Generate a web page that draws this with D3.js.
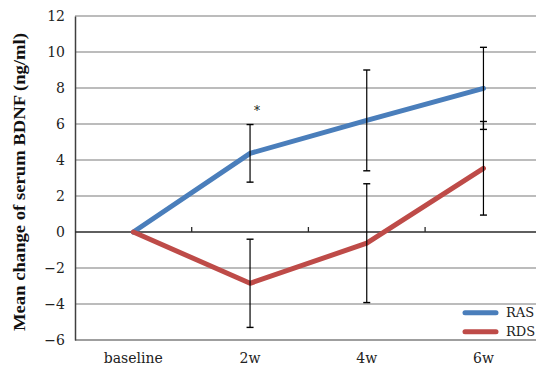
<!DOCTYPE html>
<html>
<head>
<meta charset="utf-8">
<script src="https://cdn.jsdelivr.net/npm/d3@7"></script>
<style>
  html, body { margin: 0; padding: 0; background: #fff; }
  svg { display: block; font-family: "DejaVu Serif", "Liberation Serif", serif; }
</style>
</head>
<body>
<svg id="chart" width="536" height="369"></svg>
<script>
const categories = ["baseline", "2w", "4w", "6w"];
const rasMean = [0, 4.37, 6.2, 7.98];
const rasErr  = [0, 1.6, 2.8, 2.28];
const rdsMean = [0, -2.85, -0.62, 3.54];
const rdsErr  = [0, 2.45, 3.3, 2.6];
const yTicks = [-6, -4, -2, 0, 2, 4, 6, 8, 10, 12];

const series = [
    { name: "RAS", color: "#4a7ebb", mean: rasMean, err: rasErr },
    { name: "RDS", color: "#be4b48", mean: rdsMean, err: rdsErr }
];

const svg = d3.select("#chart");
const plotLeft = 75, plotTop = 16, plotBottom = 340;
const bandW = 116.7;

const x = d3.scalePoint()
    .domain(categories)
    .range([plotLeft + bandW / 2, plotLeft + bandW * 3.5]);

const y = d3.scaleLinear().domain([-6, 12]).range([plotBottom, plotTop]);

// gridlines
svg.append("g")
    .selectAll("line")
    .data(yTicks.filter(t => t !== 0 && t !== -6))
    .enter().append("line")
    .attr("x1", plotLeft).attr("x2", 536)
    .attr("y1", d => y(d)).attr("y2", d => y(d))
    .attr("stroke", "#a6a6a6")
    .attr("stroke-width", 1.5);

// bottom border
svg.append("line")
    .attr("x1", plotLeft).attr("x2", 536)
    .attr("y1", y(-6)).attr("y2", y(-6))
    .attr("stroke", "#7f7f7f").attr("stroke-width", 1.5);

// y axis
const yAxis = svg.append("g")
    .attr("transform", `translate(${plotLeft},0)`)
    .call(d3.axisLeft(y).tickValues(yTicks).tickSize(0).tickPadding(10));
yAxis.select(".domain").attr("stroke", "#404040").attr("stroke-width", 1.5);
yAxis.selectAll("text")
    .attr("font-size", 14)
    .attr("font-family", "DejaVu Serif, serif")
    .attr("fill", "#222");

// zero axis with ticks between categories
svg.append("line")
    .attr("x1", plotLeft).attr("x2", 536)
    .attr("y1", y(0)).attr("y2", y(0))
    .attr("stroke", "#2a2a2a").attr("stroke-width", 1.5);

svg.append("g")
    .selectAll("line")
    .data([1, 2, 3])
    .enter().append("line")
    .attr("x1", d => plotLeft + d * bandW).attr("x2", d => plotLeft + d * bandW)
    .attr("y1", y(0)).attr("y2", y(0) - 5)
    .attr("stroke", "#2a2a2a").attr("stroke-width", 1.3);

// category labels
svg.append("g")
    .selectAll("text")
    .data(categories)
    .enter().append("text")
    .attr("x", d => x(d))
    .attr("y", 363)
    .attr("text-anchor", "middle")
    .attr("font-size", 14)
    .attr("fill", "#222")
    .text(d => d);

// lines
const line = d3.line()
    .x((d, i) => x(categories[i]))
    .y(d => y(d));

series.forEach(s => {
    svg.append("path")
        .datum(s.mean)
        .attr("d", line)
        .attr("fill", "none")
        .attr("stroke", s.color)
        .attr("stroke-width", 5)
        .attr("stroke-linejoin", "round")
        .attr("stroke-linecap", "round");
});

// error bars
series.forEach(s => {
    const g = svg.append("g");
    const data = s.mean.map((m, i) => ({ c: categories[i], m, e: s.err[i] })).filter(d => d.e > 0);
    g.selectAll("line.v").data(data).enter().append("line")
        .attr("x1", d => x(d.c)).attr("x2", d => x(d.c))
        .attr("y1", d => y(d.m + d.e)).attr("y2", d => y(d.m - d.e))
        .attr("stroke", "#000").attr("stroke-width", 1.2);
    [1, -1].forEach(sign => {
        g.selectAll("line.cap" + (sign > 0 ? "u" : "d")).data(data).enter().append("line")
            .attr("x1", d => x(d.c) - 3.5).attr("x2", d => x(d.c) + 3.5)
            .attr("y1", d => y(d.m + sign * d.e)).attr("y2", d => y(d.m + sign * d.e))
            .attr("stroke", "#000").attr("stroke-width", 1.4);
    });
});

// significance marker
svg.append("text")
    .attr("x", x("2w") + 7)
    .attr("y", y(rasMean[1] + rasErr[1]) - 10)
    .attr("text-anchor", "middle")
    .attr("font-size", 12)
    .attr("fill", "#111")
    .text("*");

// legend
const legend = svg.append("g");
series.forEach((s, i) => {
    const ly = 312.7 + i * 19;
    legend.append("line")
        .attr("x1", 465).attr("x2", 496)
        .attr("y1", ly).attr("y2", ly)
        .attr("stroke", s.color)
        .attr("stroke-width", 5)
        .attr("stroke-linecap", "round");
    legend.append("text")
        .attr("x", 506).attr("y", ly + 4.5)
        .attr("font-size", 13)
        .attr("fill", "#222")
        .text(s.name);
});

// y axis title
svg.append("text")
    .attr("transform", "translate(25,182) rotate(-90)")
    .attr("text-anchor", "middle")
    .attr("font-family", "Liberation Serif, serif")
    .attr("font-size", 16)
    .attr("font-weight", "bold")
    .attr("fill", "#111")
    .attr("textLength", 298)
    .attr("lengthAdjust", "spacingAndGlyphs")
    .text("Mean change of serum BDNF (ng/ml)");
</script>
</body>
</html>
